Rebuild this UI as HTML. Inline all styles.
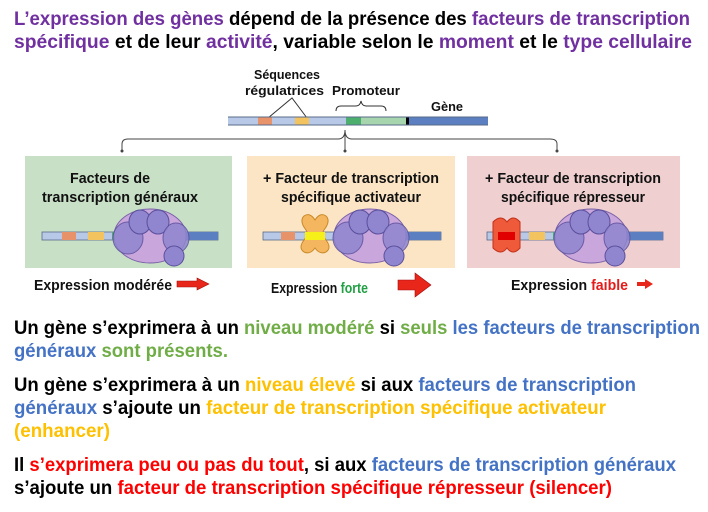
<!DOCTYPE html>
<html><head><meta charset="utf-8"><style>
html,body{margin:0;padding:0;background:#fff;}
svg{display:block;}
text{font-family:"Liberation Sans Narrow","Liberation Sans",sans-serif;font-weight:bold;}
</style></head><body>
<svg width="708" height="512" viewBox="0 0 708 512" xmlns="http://www.w3.org/2000/svg">
<defs>
<g id="pol">
  <ellipse cx="0" cy="0" rx="36" ry="27" fill="#c9a6dc" stroke="#7a62a8" stroke-width="1"/>
  <ellipse cx="-22" cy="2" rx="15" ry="16" fill="#8f86cf" stroke="#5b4f9c" stroke-width="1" opacity="0.85"/>
  <ellipse cx="-10" cy="-14" rx="11" ry="12" fill="#8f86cf" stroke="#5b4f9c" stroke-width="1"/>
  <ellipse cx="8" cy="-14" rx="11" ry="12" fill="#8f86cf" stroke="#5b4f9c" stroke-width="1"/>
  <ellipse cx="26" cy="2" rx="13" ry="15" fill="#8f86cf" stroke="#5b4f9c" stroke-width="1" opacity="0.85"/>
  <ellipse cx="24" cy="20" rx="10" ry="10" fill="#8f86cf" stroke="#5b4f9c" stroke-width="1"/>
</g>
</defs>
<rect width="708" height="512" fill="#fff"/>
<text x="14" y="25" font-size="19" textLength="676" lengthAdjust="spacingAndGlyphs" fill="#000"><tspan fill="#7030a0">L’expression des gènes</tspan> dépend de la présence des <tspan fill="#7030a0">facteurs de transcription</tspan></text>
<text x="14" y="48" font-size="19" textLength="678" lengthAdjust="spacingAndGlyphs" fill="#000"><tspan fill="#7030a0">spécifique</tspan> et de leur <tspan fill="#7030a0">activité</tspan>, variable selon le <tspan fill="#7030a0">moment</tspan> et le <tspan fill="#7030a0">type cellulaire</tspan></text>

<text x="254" y="79" font-size="13" textLength="66" lengthAdjust="spacingAndGlyphs" fill="#111">Séquences</text>
<text x="245" y="95" font-size="13" textLength="79" lengthAdjust="spacingAndGlyphs" fill="#111">régulatrices</text>
<text x="332" y="95" font-size="13" textLength="68" lengthAdjust="spacingAndGlyphs" fill="#111">Promoteur</text>
<text x="431" y="111" font-size="13" textLength="32" lengthAdjust="spacingAndGlyphs" fill="#111">Gène</text>
<polyline points="268,118 292,98 307,118" fill="none" stroke="#333" stroke-width="1"/>
<path d="M336,111 q0,-5 5,-5 h15 q4,0 5,-5 q1,5 5,5 h15 q5,0 5,5" fill="none" stroke="#333" stroke-width="1"/>
<rect x="228" y="117" width="118" height="8" fill="#b7c9e6"/>
<rect x="258" y="117" width="14" height="8" fill="#e8926a"/>
<rect x="295" y="117" width="14" height="8" fill="#f2c35e"/>
<rect x="346" y="117" width="15" height="8" fill="#4caf6e"/>
<rect x="361" y="117" width="45" height="8" fill="#a7d5ae"/>
<rect x="406" y="117" width="3" height="8" fill="#000"/>
<rect x="409" y="117" width="79" height="8" fill="#5b7fc0"/>
<line x1="228" y1="117" x2="488" y2="117" stroke="#5a6b8a" stroke-width="1"/>
<line x1="228" y1="125" x2="488" y2="125" stroke="#5a6b8a" stroke-width="1"/>

<path d="M122,150 v-6 q0,-5 6,-5 h210 q7,0 7,-9 q0,9 7,9 h198 q7,0 7,5 v6" fill="none" stroke="#444" stroke-width="1"/>
<line x1="345" y1="130" x2="345" y2="150" stroke="#444" stroke-width="1"/>
<circle cx="122" cy="151" r="1.5" fill="#444"/><circle cx="345" cy="151" r="1.5" fill="#444"/><circle cx="557" cy="151" r="1.5" fill="#444"/>

<rect x="25" y="156" width="207" height="112" fill="#c8e0c6"/>
<rect x="247" y="156" width="208" height="112" fill="#fbe5c4"/>
<rect x="467" y="156" width="213" height="112" fill="#efcfcf"/>
<text x="110" y="183" font-size="15" text-anchor="middle" textLength="80" lengthAdjust="spacingAndGlyphs" fill="#111">Facteurs de</text>
<text x="120" y="202" font-size="15" text-anchor="middle" textLength="156" lengthAdjust="spacingAndGlyphs" fill="#111">transcription généraux</text>
<text x="351" y="183" font-size="15" text-anchor="middle" textLength="176" lengthAdjust="spacingAndGlyphs" fill="#111">+ Facteur de transcription</text>
<text x="351" y="202" font-size="15" text-anchor="middle" textLength="140" lengthAdjust="spacingAndGlyphs" fill="#111">spécifique activateur</text>
<text x="573" y="183" font-size="15" text-anchor="middle" textLength="176" lengthAdjust="spacingAndGlyphs" fill="#111">+ Facteur de transcription</text>
<text x="573" y="202" font-size="15" text-anchor="middle" textLength="144" lengthAdjust="spacingAndGlyphs" fill="#111">spécifique répresseur</text>

<g>
 <rect x="42" y="232" width="176" height="8" fill="#b7c9e6" stroke="#5a6b8a" stroke-width="0.8"/>
 <rect x="62" y="232" width="14" height="8" fill="#e8926a"/>
 <rect x="88" y="232" width="16" height="8" fill="#f2c35e"/>
 <rect x="112" y="232" width="14" height="8" fill="#4caf6e"/>
 <rect x="126" y="232" width="44" height="8" fill="#a7d5ae"/>
 <rect x="172" y="232" width="46" height="8" fill="#5b7fc0"/>
 <use href="#pol" x="150" y="236"/>
</g>
<g>
 <rect x="263" y="232" width="178" height="8" fill="#b7c9e6" stroke="#5a6b8a" stroke-width="0.8"/>
 <rect x="281" y="232" width="14" height="8" fill="#e8926a"/>
 <rect x="334" y="232" width="14" height="8" fill="#4caf6e"/>
 <rect x="348" y="232" width="42" height="8" fill="#a7d5ae"/>
 <rect x="394" y="232" width="47" height="8" fill="#5b7fc0"/>
 <path d="M304,216 q6,-4 11,4 q5,-8 11,-4 q5,5 -2,14 q-3,4 2,10 q6,8 0,12 q-6,3 -11,-4 q-5,7 -11,4 q-6,-4 0,-12 q5,-6 2,-10 q-7,-9 -2,-14z" fill="#f5b660" stroke="#c98a2a" stroke-width="1"/>
 <rect x="305" y="232" width="20" height="8" fill="#f6ef1a"/>
 <use href="#pol" x="370" y="236"/>
</g>
<g>
 <rect x="487" y="232" width="176" height="8" fill="#b7c9e6" stroke="#5a6b8a" stroke-width="0.8"/>
 <path d="M493,222 q8,-8 14,0 q6,-8 13,0 v26 q-7,8 -13,0 q-6,8 -14,0z" fill="#ef5a3a" stroke="#c0301a" stroke-width="1"/>
 <rect x="498" y="232" width="17" height="8" fill="#e00000"/>
 <rect x="529" y="232" width="16" height="8" fill="#f2c35e"/>
 <rect x="553" y="232" width="14" height="8" fill="#4caf6e"/>
 <rect x="567" y="232" width="42" height="8" fill="#a7d5ae"/>
 <rect x="613" y="232" width="50" height="8" fill="#5b7fc0"/>
 <use href="#pol" x="591" y="236"/>
</g>

<text x="34" y="290" font-size="15" textLength="138" lengthAdjust="spacingAndGlyphs" fill="#111">Expression modérée</text>
<path d="M177,281 h20 v-3 l12,6 l-12,6 v-3 h-20z" fill="#e8261a" stroke="#a01010" stroke-width="0.6"/>
<text x="213" y="292" font-size="15" fill="#111" textLength="0" visibility="hidden"></text>
<text x="271" y="293" font-size="15" textLength="97" lengthAdjust="spacingAndGlyphs" fill="#111">Expression <tspan fill="#22a045">forte</tspan></text>
<path d="M398,280 h17 v-7 l16,12 l-16,12 v-7 h-17z" fill="#e8261a" stroke="#a01010" stroke-width="0.6"/>
<text x="511" y="290" font-size="15" textLength="117" lengthAdjust="spacingAndGlyphs" fill="#111">Expression <tspan fill="#e51a1a">faible</tspan></text>
<path d="M637,282 h8 v-3 l8,5 l-8,5 v-3 h-8z" fill="#e8261a"/>

<text x="14" y="334" font-size="19" textLength="686" lengthAdjust="spacingAndGlyphs" fill="#000">Un gène s’exprimera à un <tspan fill="#70ad47">niveau modéré</tspan> si <tspan fill="#70ad47">seuls</tspan> <tspan fill="#4472c4">les facteurs de transcription</tspan></text>
<text x="14" y="357" font-size="19" textLength="214" lengthAdjust="spacingAndGlyphs" fill="#4472c4">généraux <tspan fill="#70ad47">sont présents.</tspan></text>
<text x="14" y="391" font-size="19" textLength="622" lengthAdjust="spacingAndGlyphs" fill="#000">Un gène s’exprimera à un <tspan fill="#ffc000">niveau élevé</tspan> si aux <tspan fill="#4472c4">facteurs de transcription</tspan></text>
<text x="14" y="414" font-size="19" textLength="592" lengthAdjust="spacingAndGlyphs" fill="#000"><tspan fill="#4472c4">généraux</tspan> s’ajoute un <tspan fill="#ffc000">facteur de transcription spécifique activateur</tspan></text>
<text x="14" y="437" font-size="19" textLength="96" lengthAdjust="spacingAndGlyphs" fill="#ffc000">(enhancer)</text>
<text x="14" y="471" font-size="19" textLength="662" lengthAdjust="spacingAndGlyphs" fill="#000">Il <tspan fill="#ff0000">s’exprimera peu ou pas du tout</tspan>, si aux <tspan fill="#4472c4">facteurs de transcription généraux</tspan></text>
<text x="14" y="494" font-size="19" textLength="598" lengthAdjust="spacingAndGlyphs" fill="#000">s’ajoute un <tspan fill="#ff0000">facteur de transcription spécifique répresseur (silencer)</tspan></text>
</svg>
</body></html>
